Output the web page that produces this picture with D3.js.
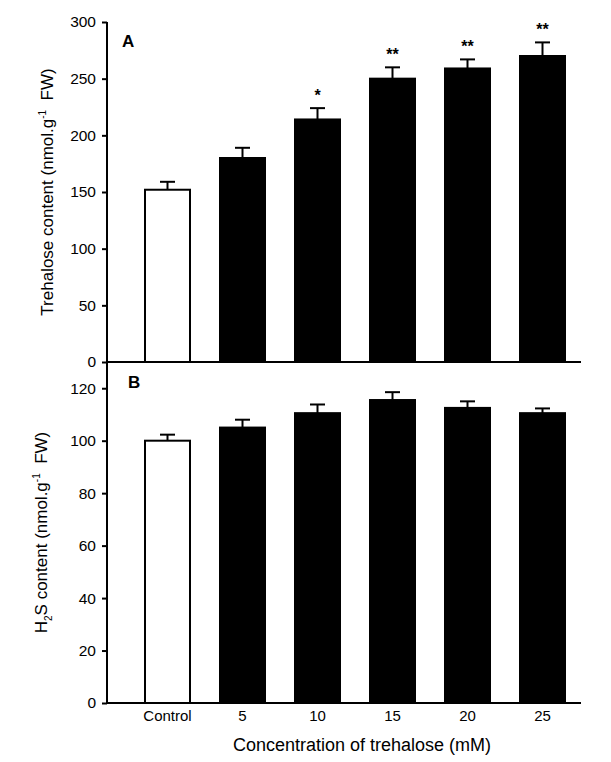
<!DOCTYPE html>
<html><head><meta charset="utf-8">
<script src="https://cdn.jsdelivr.net/npm/d3@7"></script>
<style>body{margin:0;background:#fff}svg{display:block;font-family:Arial,"Liberation Sans",sans-serif}</style>
</head><body>
<script>
const categories = ["Control","5","10","15","20","25"];
const trehalose = [152,180,214,250,259,270];
const trehaloseErr = [7,9,10,10,8,12];
const trehaloseSig = ["","","*","**","**","**"];
const h2s = [100,105,110.5,115.5,112.5,110.5];
const h2sErr = [2.3,3,3.3,3,2.5,1.8];
const ticksA = [0,50,100,150,200,250,300];
const ticksB = [0,20,40,60,80,100,120];

const W=611,H=762;
const svg=d3.select("body").append("svg").attr("width",W).attr("height",H);
const xL=107, xR=581;
const x=d3.scaleBand().domain(categories).range([130,580]).paddingInner(0.4).paddingOuter(0.2);
const yA=d3.scaleLinear().domain([0,300]).range([362,22]);
const yB=d3.scaleLinear().domain([0,130]).range([703,362]);

function panel(y, vals, errs, ticks, sig, letter, lx, ly){
  const g=svg.append("g");
  g.selectAll("rect.bar").data(vals).join("rect")
    .attr("x",(d,i)=>x(categories[i])).attr("width",x.bandwidth())
    .attr("y",d=>y(d)).attr("height",d=>y(0)-y(d))
    .attr("fill",(d,i)=>i===0?"#fff":"#000")
    .attr("stroke","#000").attr("stroke-width",2);
  g.selectAll("line.err").data(vals).join("line")
    .attr("x1",(d,i)=>x(categories[i])+x.bandwidth()/2).attr("x2",(d,i)=>x(categories[i])+x.bandwidth()/2)
    .attr("y1",d=>y(d)).attr("y2",(d,i)=>y(d+errs[i]))
    .attr("stroke","#000").attr("stroke-width",2);
  g.selectAll("line.cap").data(vals).join("line")
    .attr("x1",(d,i)=>x(categories[i])+x.bandwidth()/2-7.5).attr("x2",(d,i)=>x(categories[i])+x.bandwidth()/2+7.5)
    .attr("y1",(d,i)=>y(d+errs[i])).attr("y2",(d,i)=>y(d+errs[i]))
    .attr("stroke","#000").attr("stroke-width",2);
  if(sig){
    g.selectAll("text.sig").data(vals).join("text")
      .attr("x",(d,i)=>x(categories[i])+x.bandwidth()/2)
      .attr("y",(d,i)=>y(d+errs[i])-7)
      .attr("text-anchor","middle").attr("font-size",16).attr("font-weight","bold")
      .text((d,i)=>sig[i]);
  }
  const ax=d3.axisLeft(y).tickValues(ticks).tickSize(5).tickPadding(6).tickFormat(d3.format("d"));
  const ga=g.append("g").attr("transform",`translate(${xL},0)`).call(ax);
  ga.select(".domain").remove();
  ga.selectAll(".tick line").attr("stroke","#000").attr("stroke-width",2);
  ga.selectAll(".tick text").attr("font-size",15.5).attr("fill","#000").attr("font-family","Arial, 'Liberation Sans', sans-serif");
  g.append("line").attr("x1",xL).attr("x2",xL).attr("y1",y.range()[1]).attr("y2",y(0)).attr("stroke","#000").attr("stroke-width",2);
  g.append("line").attr("x1",xL).attr("x2",xR).attr("y1",y(0)).attr("y2",y(0)).attr("stroke","#000").attr("stroke-width",2);
  g.append("text").attr("x",lx).attr("y",ly).attr("font-size",17).attr("font-weight","bold").text(letter);
}
panel(yA,trehalose,trehaloseErr,ticksA,trehaloseSig,"A",122,47);
panel(yB,h2s,h2sErr,ticksB,null,"B",128,388);

svg.selectAll("text.xl").data(categories).join("text")
  .attr("x",d=>x(d)+x.bandwidth()/2).attr("y",721)
  .attr("text-anchor","middle").attr("font-size",15).text(d=>d);
svg.append("text").attr("x",362).attr("y",751).attr("text-anchor","middle").attr("font-size",18)
  .text("Concentration of trehalose (mM)");

const t1=svg.append("text").attr("transform",`translate(53,${(22+362)/2}) rotate(-90)`).attr("text-anchor","middle").attr("font-size",17);
t1.append("tspan").text("Trehalose content (nmol.g");
t1.append("tspan").attr("dy",-7).attr("font-size",10).text("-1");
t1.append("tspan").attr("dy",7).text("\u00a0\u00a0FW)");
const t2=svg.append("text").attr("transform",`translate(47,${(362+703)/2}) rotate(-90)`).attr("text-anchor","middle").attr("font-size",17);
t2.append("tspan").text("H");
t2.append("tspan").attr("dy",5).attr("font-size",10).text("2");
t2.append("tspan").attr("dy",-5).text("S content (nmol.g");
t2.append("tspan").attr("dy",-7).attr("font-size",10).text("-1");
t2.append("tspan").attr("dy",7).text("\u00a0\u00a0FW)");
</script>
</body></html>
